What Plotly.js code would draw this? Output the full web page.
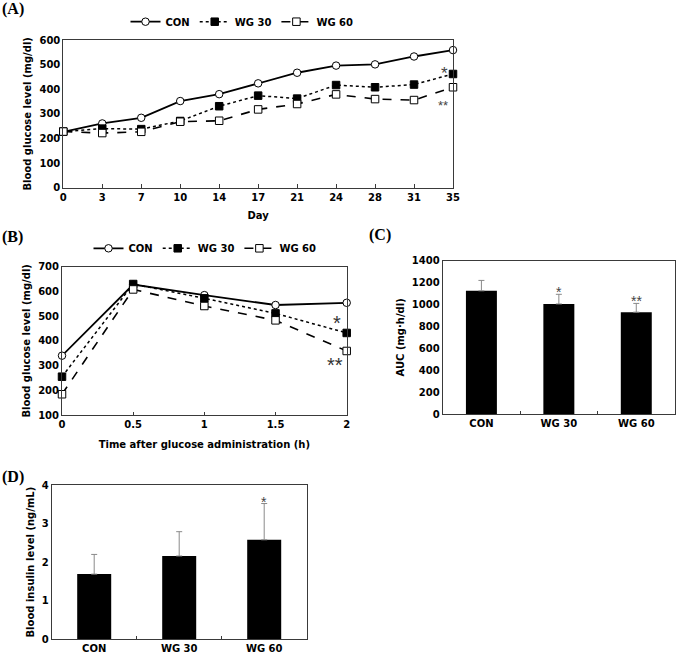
<!DOCTYPE html>
<html>
<head>
<meta charset="utf-8">
<script src="https://cdn.plot.ly/plotly-3.0.1.min.js"></script>
<style>html,body{margin:0;padding:0;background:#fff;}#chart{width:677px;height:656px;}</style>
</head>
<body>
<div id="chart"></div>
<script>
// ---- Panel A: blood glucose over days ----
const days = ["0","3","7","10","14","17","21","24","28","31","35"];
const conA  = [227,261,284,352,380,424,467,496,501,533,559];
const wg30A = [228,240,238,271,331,374,362,417,408,419,462];
const wg60A = [228,222,227,268,272,318,340,379,360,356,408];

// ---- Panel B: OGTT ----
const hours = [0,0.5,1,1.5,2];
const conB  = [340,628,585,545,554];
const wg30B = [255,630,572,511,432];
const wg60B = [184,608,541,483,359];

// ---- Panel C: AUC ----
const groups = ["CON","WG 30","WG 60"];
const auc    = [1125,1005,930];
const aucErr = [95,88,80];
const aucSig = ["","*","**"];

// ---- Panel D: insulin ----
const ins    = [1.69,2.16,2.58];
const insErr = [0.51,0.63,0.94];
const insSig = ["","","*"];

const seriesNames = ["CON","WG 30","WG 60"];

const W = 677, H = 656;
const px = v => v / W;
const py = v => 1 - v / H;

const TF = {family:"DejaVu Sans", size:10, color:"#000", weight:"bold"};
const TITLEF = {family:"DejaVu Sans", size:10, color:"#000", weight:"bold"};
const LINE = "#3a3a3a";
const STAR = "#444444";

function styleFor(i){
  if(i===0) return {line:{color:"#000",width:1.8,dash:"solid"}, marker:{symbol:"circle",size:7.5,color:"#fff",line:{color:"#000",width:1}}};
  if(i===1) return {line:{color:"#000",width:1.5,dash:"dot"}, marker:{symbol:"square",size:7.5,color:"#000",line:{color:"#000",width:1}}};
  return {line:{color:"#000",width:1.6,dash:"dash"}, marker:{symbol:"square",size:7.5,color:"#fff",line:{color:"#000",width:1}}};
}

const traces = [];
[conA,wg30A,wg60A].forEach((ys,i)=>{
  const s = styleFor(i);
  traces.push({type:"scatter",mode:"lines+markers",x:days,y:ys,name:seriesNames[i],
    xaxis:"x",yaxis:"y",line:s.line,marker:s.marker,cliponaxis:false,legend:"legend",showlegend:true});
});
[conB,wg30B,wg60B].forEach((ys,i)=>{
  const s = styleFor(i);
  traces.push({type:"scatter",mode:"lines+markers",x:hours,y:ys,name:seriesNames[i],
    xaxis:"x2",yaxis:"y2",line:s.line,marker:s.marker,cliponaxis:false,legend:"legend2",showlegend:true});
});
traces.push({type:"bar",x:groups,y:auc,xaxis:"x3",yaxis:"y3",marker:{color:"#000"},showlegend:false,
  error_y:{type:"data",array:aucErr,arrayminus:[0,0,0],symmetric:false,color:"#8a8a8a",thickness:1,width:3}});
traces.push({type:"bar",x:groups,y:ins,xaxis:"x4",yaxis:"y4",marker:{color:"#000"},showlegend:false,
  error_y:{type:"data",array:insErr,arrayminus:[0,0,0],symmetric:false,color:"#8a8a8a",thickness:1,width:3}});

const baseAxis = {showline:true,mirror:true,linecolor:LINE,linewidth:1,showgrid:false,zeroline:false,
  tickfont:TF,ticks:"",fixedrange:true};

const annotations = [
  {text:"<b>(A)</b>",xref:"paper",yref:"paper",x:px(0),y:py(9),xanchor:"left",yanchor:"middle",showarrow:false,font:{family:"Liberation Serif",size:16,color:"#000"}},
  {text:"<b>(B)</b>",xref:"paper",yref:"paper",x:px(0),y:py(237),xanchor:"left",yanchor:"middle",showarrow:false,font:{family:"Liberation Serif",size:16,color:"#000"}},
  {text:"<b>(C)</b>",xref:"paper",yref:"paper",x:px(367),y:py(235),xanchor:"left",yanchor:"middle",showarrow:false,font:{family:"Liberation Serif",size:16,color:"#000"}},
  {text:"<b>(D)</b>",xref:"paper",yref:"paper",x:px(0),y:py(477),xanchor:"left",yanchor:"middle",showarrow:false,font:{family:"Liberation Serif",size:16,color:"#000"}},
  // significance panel A
  {text:"*",xref:"x",yref:"y",x:10,y:wg30A[10],xshift:-9,yshift:0,showarrow:false,font:{family:"Liberation Sans",size:17,color:STAR}},
  {text:"**",xref:"x",yref:"y",x:10,y:wg60A[10],xshift:-10,yshift:-18,showarrow:false,font:{family:"Liberation Sans",size:13,color:STAR}},
  // panel B
  {text:"*",xref:"x2",yref:"y2",x:hours[4],y:wg30B[4],xshift:-10,yshift:10,showarrow:false,font:{family:"Liberation Sans",size:20,color:"#333"}},
  {text:"**",xref:"x2",yref:"y2",x:hours[4],y:wg60B[4],xshift:-12,yshift:-14,showarrow:false,font:{family:"Liberation Sans",size:20,color:"#333"}}
];
groups.forEach((g,i)=>{
  if(aucSig[i]) annotations.push({text:aucSig[i],xref:"x3",yref:"y3",x:g,y:auc[i]+aucErr[i],yanchor:"bottom",yshift:-8,showarrow:false,font:{family:"Liberation Sans",size:14,color:STAR}});
  if(insSig[i]) annotations.push({text:insSig[i],xref:"x4",yref:"y4",x:g,y:ins[i]+insErr[i],yanchor:"bottom",yshift:-8,showarrow:false,font:{family:"Liberation Sans",size:14,color:STAR}});
});

const layout = {
  width:W,height:H,margin:{l:0,r:0,t:0,b:0},paper_bgcolor:"#fff",plot_bgcolor:"#fff",
  font:{family:"DejaVu Sans",color:"#000"},
  xaxis:Object.assign({},baseAxis,{domain:[px(63.3),px(453)],anchor:"y",type:"category",range:[0,10],
    ticks:"inside",ticklen:4,tickcolor:LINE,title:{text:"Day",font:TITLEF,standoff:10}}),
  yaxis:Object.assign({},baseAxis,{domain:[py(187.7),py(40)],anchor:"x",range:[0,600],dtick:100,
    title:{text:"Blood glucose level (mg/dl)",font:TITLEF,standoff:5}}),
  xaxis2:Object.assign({},baseAxis,{domain:[px(62),px(346.7)],anchor:"y2",range:[0,2],dtick:0.5,
    ticks:"inside",ticklen:3,tickcolor:LINE,title:{text:"Time after glucose administration (h)",font:TITLEF,standoff:11}}),
  yaxis2:Object.assign({},baseAxis,{domain:[py(415),py(266.7)],anchor:"x2",range:[100,700],dtick:100,
    title:{text:"Blood glucose level (mg/dl)",font:TITLEF,standoff:5}}),
  xaxis3:Object.assign({},baseAxis,{domain:[px(442.7),px(675)],anchor:"y3",type:"category",
    ticks:"inside",tickson:"boundaries",ticklen:3,tickcolor:LINE}),
  yaxis3:Object.assign({},baseAxis,{domain:[py(414),py(260.7)],anchor:"x3",range:[0,1400],dtick:200,
    title:{text:"AUC (mg·h/dl)",font:TITLEF,standoff:5}}),
  xaxis4:Object.assign({},baseAxis,{domain:[px(51.7),px(306.7)],anchor:"y4",type:"category",
    ticks:"inside",tickson:"boundaries",ticklen:3,tickcolor:LINE}),
  yaxis4:Object.assign({},baseAxis,{domain:[py(639.3),py(485)],anchor:"x4",range:[0,4],dtick:1,
    title:{text:"Blood insulin level (ng/mL)",font:TITLEF,standoff:5}}),
  bargap:0.6,
  legend:{orientation:"h",x:px(242),y:py(21.7),xanchor:"center",yanchor:"middle",font:TF,
    bgcolor:"rgba(0,0,0,0)",itemwidth:30,tracegroupgap:0},
  legend2:{orientation:"h",x:px(205),y:py(248.3),xanchor:"center",yanchor:"middle",font:TF,
    bgcolor:"rgba(0,0,0,0)",itemwidth:30,tracegroupgap:0},
  annotations:annotations
};

Plotly.newPlot("chart",traces,layout,{staticPlot:true,displayModeBar:false});
</script>
</body>
</html>
